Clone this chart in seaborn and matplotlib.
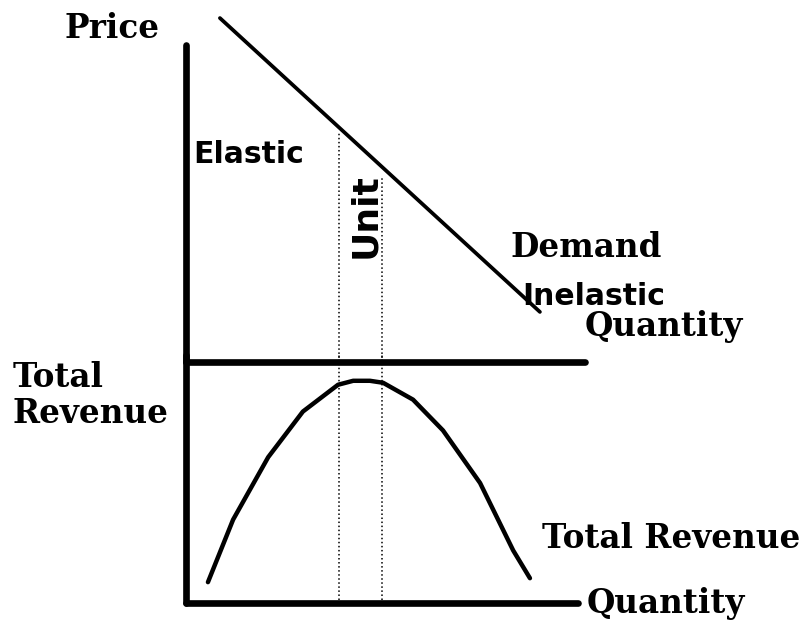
import matplotlib
matplotlib.use("Agg")
import matplotlib.pyplot as plt
import seaborn as sns
import pandas as pd

# demand curve (quantity, price)
demand_q = [0.85, 8.87]
demand_p = [10.85, 1.58]

# total revenue curve (quantity, revenue)
tr_q = [0.55, 1.18, 2.06, 2.93, 3.81, 4.19, 4.61, 4.94, 5.69, 6.44, 7.37, 8.20, 8.62]
tr_v = [2.1, 8.4, 14.7, 19.3, 22.0, 22.4, 22.4, 22.2, 20.5, 17.4, 12.1, 5.3, 2.5]

# unit elastic region boundaries
unit_q = [3.83, 4.91]
unit_p_top = [7.25, 5.8]

sns.set_theme(style="white")

W, H = 808, 624
fig = plt.figure(figsize=(W / 100, H / 100), dpi=100)


def box(x0, y0, x1, y1):
    # pixel box (top-left origin) -> figure fraction
    return [x0 / W, 1 - y1 / H, (x1 - x0) / W, (y1 - y0) / H]


def px(x, y):
    return x / W, 1 - y / H


ax1 = fig.add_axes(box(186, 45, 585, 362))
ax2 = fig.add_axes(box(186, 355, 578, 603))

for ax in (ax1, ax2):
    ax.set_facecolor("none")
    ax.set_xticks([])
    ax.set_yticks([])
    for s in ["top", "right"]:
        ax.spines[s].set_visible(False)
    for s in ["left", "bottom"]:
        ax.spines[s].set_color("black")
        ax.spines[s].set_linewidth(4.8)
        ax.spines[s].set_capstyle("round")

ax1.set_xlim(0, 10)
ax1.set_ylim(0, 10)
ax2.set_xlim(0, 392 / 39.9)
ax2.set_ylim(0, 25)

dem = pd.DataFrame({"q": demand_q, "p": demand_p})
sns.lineplot(data=dem, x="q", y="p", ax=ax1, color="black", lw=2.7,
             sort=False, clip_on=False, solid_capstyle="round")

tr = pd.DataFrame({"q": tr_q, "tr": tr_v})
sns.lineplot(data=tr, x="q", y="tr", ax=ax2, color="black", lw=3.2,
             sort=False, clip_on=False, solid_capstyle="round",
             solid_joinstyle="round")

for q, ptop in zip(unit_q, unit_p_top):
    ax1.vlines(q, 0, ptop, colors="black", linestyles=":", lw=1.1)
    ax2.vlines(q, 0.3, 25, colors="black", linestyles=":", lw=1.1)

for ax in (ax1, ax2):
    ax.set_xlabel("")
    ax.set_ylabel("")

serif = dict(family="DejaVu Serif", fontweight="bold", fontsize=23.5, color="black")
sans = dict(family="DejaVu Sans", fontweight="bold", fontsize=21.5, color="black")

fig.text(*px(65, 38), "Price", ha="left", va="baseline", **serif)
fig.text(*px(13, 387), "Total", ha="left", va="baseline", **serif)
fig.text(*px(13, 423), "Revenue", ha="left", va="baseline", **serif)
fig.text(*px(510, 257), "Demand", ha="left", va="baseline", **serif)
fig.text(*px(585, 336), "Quantity", ha="left", va="baseline", **serif)
fig.text(*px(542, 548), "Total Revenue", ha="left", va="baseline", **serif)
fig.text(*px(587, 613), "Quantity", ha="left", va="baseline", **serif)

fig.text(*px(193, 163), "Elastic", ha="left", va="baseline", **sans)
fig.text(*px(522, 305), "Inelastic", ha="left", va="baseline", **sans)
unit_style = dict(sans, fontsize=26)
fig.text(*px(375, 258), "Unit", ha="left", va="baseline", rotation=90,
         rotation_mode="anchor", **unit_style)

fig.savefig("out.png", dpi=100)
plt.close(fig)
